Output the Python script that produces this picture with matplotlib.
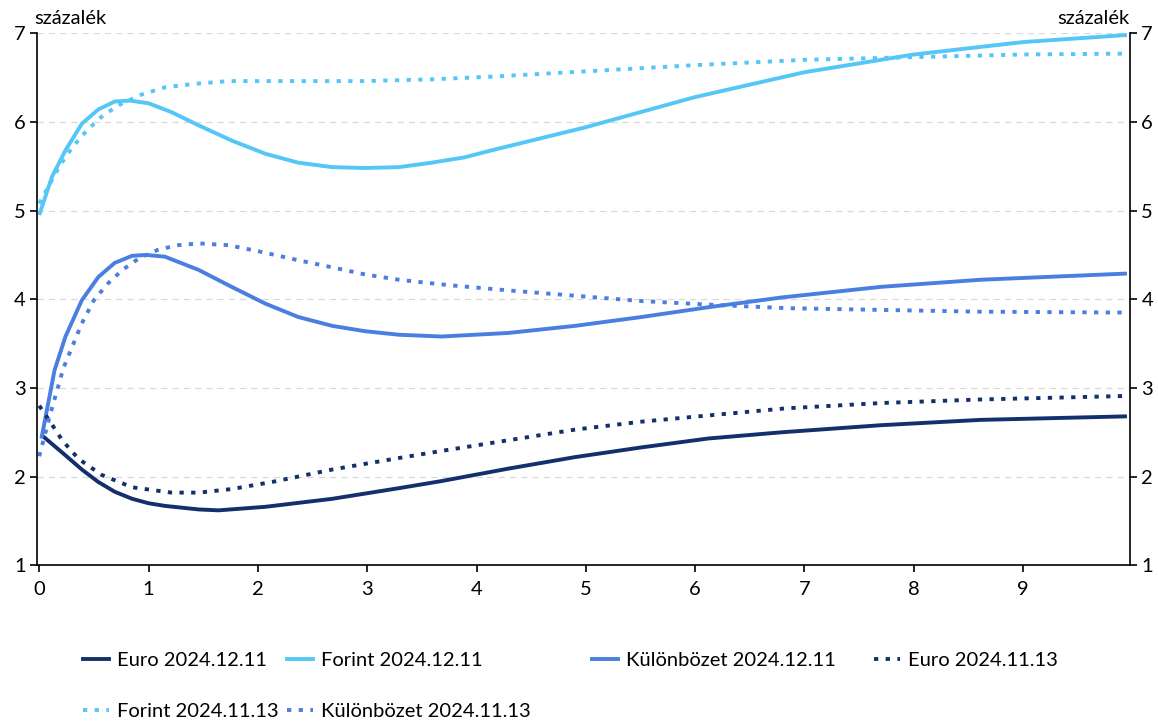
import matplotlib
matplotlib.use('Agg')
import matplotlib.pyplot as plt
from matplotlib.lines import Line2D

plt.rcParams['font.family'] = ['Lato', 'DejaVu Sans']

''' data read from the chart '''
x_euro_new = [0.02, 0.24, 0.39, 0.54, 0.69, 0.85, 1.0, 1.15, 1.46, 1.64, 2.07, 2.68, 3.29, 3.68, 4.29,
              4.90, 5.51, 6.12, 6.79, 7.70, 8.61, 9.95]
euro_new = [2.47, 2.24, 2.08, 1.94, 1.83, 1.75, 1.70, 1.67, 1.63, 1.62, 1.66, 1.75, 1.87, 1.95, 2.09,
            2.22, 2.33, 2.43, 2.50, 2.58, 2.64, 2.68]

x_euro_old = [0.0, 0.055, 0.11, 0.21, 0.36, 0.57, 0.85, 1.21, 1.46, 1.76, 2.13, 2.68, 3.29, 3.68, 4.29,
              4.90, 5.51, 6.12, 6.83, 7.70, 8.61, 9.95]
euro_old = [2.80, 2.70, 2.60, 2.41, 2.20, 2.02, 1.88, 1.82, 1.82, 1.86, 1.94, 2.08, 2.21, 2.29, 2.41,
            2.53, 2.62, 2.69, 2.77, 2.83, 2.87, 2.91]

x_forint_new = [0.0, 0.116, 0.24, 0.39, 0.54, 0.69, 0.83, 1.0, 1.21, 1.46, 1.76, 2.07, 2.37, 2.68, 2.98,
                3.29, 3.59, 3.89, 4.14, 5.0, 6.0, 7.0, 8.0, 9.0, 9.95]
forint_new = [4.95, 5.38, 5.68, 5.98, 6.14, 6.23, 6.24, 6.21, 6.11, 5.96, 5.79, 5.64, 5.54, 5.49, 5.48,
              5.49, 5.54, 5.60, 5.68, 5.94, 6.28, 6.56, 6.76, 6.90, 6.98]

x_forint_old = [0.0, 0.19, 0.30, 0.44, 0.59, 0.76, 0.94, 1.15, 1.43, 1.73, 2.37, 2.98, 3.59, 4.14,
                5.0, 6.0, 7.0, 8.0, 9.0, 9.95]
forint_old = [5.08, 5.51, 5.71, 5.91, 6.08, 6.21, 6.31, 6.39, 6.43, 6.46, 6.46, 6.46, 6.48, 6.51,
              6.57, 6.64, 6.70, 6.73, 6.76, 6.77]

x_kul_new = [0.02, 0.14, 0.24, 0.39, 0.54, 0.69, 0.85, 0.98, 1.15, 1.46, 1.76, 2.07, 2.37, 2.68, 2.98,
             3.29, 3.68, 4.29, 4.90, 5.51, 6.12, 6.79, 7.70, 8.61, 9.95]
kul_new = [2.43, 3.20, 3.58, 3.99, 4.25, 4.41, 4.49, 4.50, 4.48, 4.33, 4.14, 3.95, 3.80, 3.70, 3.64,
           3.60, 3.58, 3.62, 3.70, 3.80, 3.91, 4.02, 4.14, 4.22, 4.29]

x_kul_old = [0.0, 0.1, 0.22, 0.30, 0.39, 0.50, 0.63, 0.76, 0.91, 1.09, 1.27, 1.46, 1.73, 2.01, 2.37,
             2.68, 2.98, 3.29, 3.74, 4.29, 4.90, 5.51, 6.12, 6.83, 7.70, 8.61, 9.92]
kul_old = [2.23, 2.70, 3.22, 3.46, 3.73, 3.99, 4.18, 4.33, 4.46, 4.56, 4.61, 4.63, 4.61, 4.54, 4.44,
           4.36, 4.28, 4.22, 4.16, 4.10, 4.04, 3.98, 3.94, 3.90, 3.88, 3.86, 3.85]

labels = ['Euro 2024.12.11', 'Forint 2024.12.11', 'Különbözet 2024.12.11',
          'Euro 2024.11.13', 'Forint 2024.11.13', 'Különbözet 2024.11.13']

navy = '#14306A'
light = '#55C7F7'
mid = '#4A7FE0'
dot = (0, (1.1, 1.9))

fig = plt.figure(figsize=(11.58, 7.22), dpi=100)
ax = fig.add_axes([0.032, 0.217, 0.944, 0.737])

lw = 2.8
ax.plot(x_euro_new, euro_new, color=navy, lw=lw, solid_capstyle='butt')
ax.plot(x_forint_new, forint_new, color=light, lw=lw, solid_capstyle='butt')
ax.plot(x_kul_new, kul_new, color=mid, lw=lw, solid_capstyle='butt')
ax.plot(x_euro_old, euro_old, color=navy, lw=lw, ls=dot, dash_capstyle='butt')
ax.plot(x_forint_old, forint_old, color=light, lw=lw, ls=dot, dash_capstyle='butt')
ax.plot(x_kul_old, kul_old, color=mid, lw=lw, ls=dot, dash_capstyle='butt')

ax.set_xlim(-0.02, 9.98)
ax.set_ylim(1, 7)
ax.set_xticks(range(0, 10))
ax.set_yticks(range(1, 8))
for y in range(2, 8):
    ax.axhline(y, color='#D9D9D9', lw=0.9, ls=(0, (5, 4)), zorder=0)

ax.spines['top'].set_visible(False)
for s in ['left', 'right', 'bottom']:
    ax.spines[s].set_linewidth(1.2)
fs = 14.5
ax.tick_params(axis='both', labelsize=fs, length=5, width=1.2, direction='out', pad=3)
ax.tick_params(axis='y', right=True, labelright=True)
ax.tick_params(axis='x', pad=6)

fig.text(0.030, 0.962, 'százalék', fontsize=fs, ha='left', va='bottom')
fig.text(0.975, 0.962, 'százalék', fontsize=fs, ha='right', va='bottom')

# legend entries placed like the excel original
handles = [Line2D([], [], color=navy, lw=lw),
           Line2D([], [], color=light, lw=lw),
           Line2D([], [], color=mid, lw=lw),
           Line2D([], [], color=navy, lw=lw, ls=dot, dash_capstyle='butt'),
           Line2D([], [], color=light, lw=lw, ls=dot, dash_capstyle='butt'),
           Line2D([], [], color=mid, lw=lw, ls=dot, dash_capstyle='butt')]
positions = [(83, 660), (287, 660), (592, 660), (874, 660), (83, 711), (287, 711)]
for h, lab, (px, py) in zip(handles, labels, positions):
    fig.legend([h], [lab], loc='center left', bbox_to_anchor=(px / 1158, 1 - py / 722),
               frameon=False, fontsize=fs, handlelength=1.3, handletextpad=0.4,
               borderpad=0, borderaxespad=0)

fig.savefig('out.png', dpi=100)
